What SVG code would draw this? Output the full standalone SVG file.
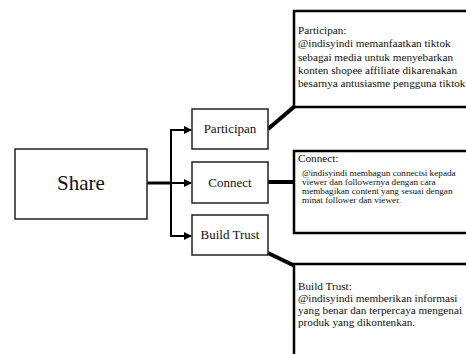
<svg xmlns="http://www.w3.org/2000/svg" width="466" height="354" viewBox="0 0 466 354">
<defs>
<marker id="ah" markerWidth="8" markerHeight="8" refX="7" refY="4" orient="auto" markerUnits="userSpaceOnUse">
<path d="M0,0 L8,4 L0,8 z" fill="#000"/>
</marker>
<style>
.box{fill:#fff;stroke:#222;stroke-width:1.5}
.call{fill:#fff;stroke:#000;stroke-width:2.5}
.lbl{font-family:"Liberation Serif","Times New Roman",serif;fill:#111;text-anchor:middle}
.t{font-family:"Liberation Serif","Times New Roman",serif;fill:#111;font-size:11.2px}
.s{font-family:"Liberation Serif","Times New Roman",serif;fill:#111;font-size:9.2px}
.thin{stroke:#000;stroke-width:2;fill:none}
.thick{stroke:#000;stroke-width:4;fill:none}
</style>
</defs>
<rect width="466" height="354" fill="#fff"/>
<g id="connectors">
<line class="thick" x1="147" y1="183" x2="171" y2="183" style="stroke-width:3"/>
<line class="thin" x1="171" y1="130" x2="171" y2="236"/>
<line class="thin" x1="170" y1="130" x2="191" y2="130" marker-end="url(#ah)"/>
<line class="thin" x1="171" y1="183" x2="191" y2="183" marker-end="url(#ah)"/>
<line class="thin" x1="170" y1="236" x2="191" y2="236" marker-end="url(#ah)"/>
<line class="thick" x1="268" y1="129" x2="295" y2="106"/>
<line class="thick" x1="268" y1="182" x2="295" y2="182"/>
<line class="thick" x1="268" y1="253" x2="295" y2="266"/>
</g>
<g id="share">
<rect class="box" x="15" y="149" width="132" height="70"/>
<text class="lbl" x="81" y="190" font-size="21">Share</text>
</g>
<g id="participan">
<rect class="box" x="192" y="109" width="76" height="40"/>
<text class="lbl" x="230" y="133" font-size="13">Participan</text>
</g>
<g id="connect">
<rect class="box" x="192" y="162" width="76" height="41"/>
<text class="lbl" x="230" y="187" font-size="13">Connect</text>
</g>
<g id="buildtrust">
<rect class="box" x="192" y="215" width="76" height="40"/>
<text class="lbl" x="230" y="239" font-size="13">Build Trust</text>
</g>
<g id="callout-participan">
<rect class="call" x="294" y="11" width="180" height="96"/>
<text class="t" x="298" y="34">Participan:</text>
<text class="t" x="298" y="47">@indisyindi memanfaatkan tiktok</text>
<text class="t" x="298" y="61">sebagai media untuk menyebarkan</text>
<text class="t" x="298" y="74">konten shopee affiliate dikarenakan</text>
<text class="t" x="298" y="87">besarnya antusiasme pengguna tiktok</text>
</g>
<g id="callout-connect">
<rect class="call" x="294" y="151" width="180" height="82"/>
<text class="t" x="298" y="162">Connect:</text>
<text class="s" x="302" y="176">@indisyindi membagun connectsi kepada</text>
<text class="s" x="302" y="185">viewer dan followernya dengan cara</text>
<text class="s" x="302" y="194">membagikan content yang sesuai dengan</text>
<text class="s" x="302" y="203">minat follower dan viewer.</text>
</g>
<g id="callout-buildtrust">
<rect class="call" x="294" y="264" width="180" height="100"/>
<text class="t" x="298" y="290">Build Trust:</text>
<text class="t" x="298" y="302">@indisyindi memberikan informasi</text>
<text class="t" x="298" y="314">yang benar dan terpercaya mengenai</text>
<text class="t" x="298" y="326">produk yang dikontenkan.</text>
</g>
</svg>
